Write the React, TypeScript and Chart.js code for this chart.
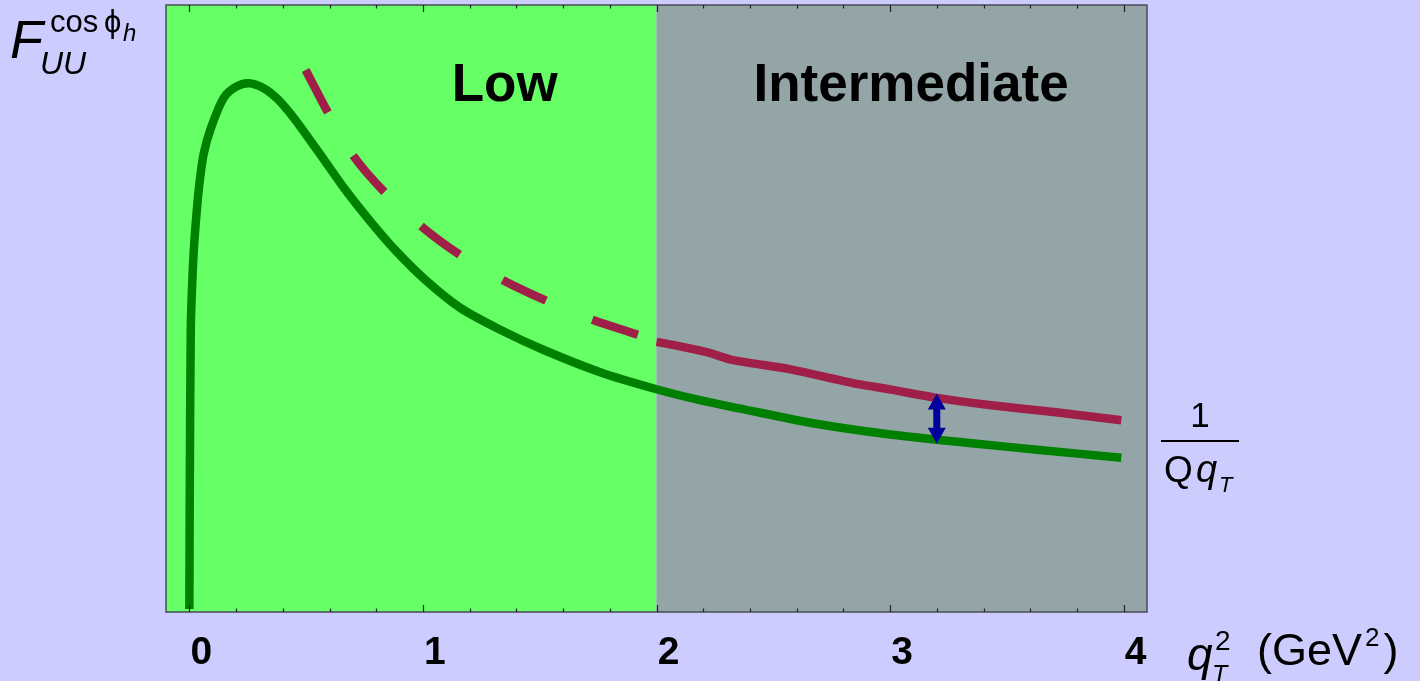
import React, { useEffect, useRef } from "react";
import { Chart, registerables } from "chart.js";

Chart.register(...registerables);

// ---- data ----
const xTickValues = [0, 1, 2, 3, 4];
const xTickLabels = ["0", "1", "2", "3", "4"];
const xMinorTicks = [0.2, 0.4, 0.6, 0.8, 1.2, 1.4, 1.6, 1.8, 2.2, 2.4, 2.6, 2.8, 3.2, 3.4, 3.6, 3.8];

const regionBounds = [-0.1, 2, 4.1];
const regionLabels = ["Low", "Intermediate"];
const regionLabelX = [1.35, 3.09];
const regionLabelY = 8.75;

const greenX = [0.0, 0.002, 0.006, 0.011, 0.019, 0.032, 0.045, 0.062, 0.092, 0.147, 0.199, 0.254, 0.318, 0.378, 0.447, 0.519, 0.575, 0.669, 0.776, 0.882, 1.011, 1.16, 1.331, 1.515, 1.759, 2.0, 2.186, 2.36, 2.67, 3.01, 3.35, 3.64, 3.99];
const greenY = [0.05, 2.17, 4.65, 5.3, 5.96, 6.62, 7.12, 7.56, 7.97, 8.47, 8.65, 8.71, 8.63, 8.45, 8.14, 7.76, 7.46, 6.95, 6.43, 5.96, 5.47, 5.01, 4.65, 4.32, 3.95, 3.67, 3.49, 3.35, 3.11, 2.92, 2.78, 2.67, 2.54];

const redDashX = [0.498, 0.592, 0.703, 0.835, 0.998, 1.16, 1.34, 1.532, 1.729, 1.925, 2.0];
const redDashY = [8.93, 8.24, 7.51, 6.92, 6.34, 5.88, 5.47, 5.12, 4.81, 4.56, 4.45];

const redSolidX = [2.0, 2.07, 2.216, 2.327, 2.57, 2.84, 3.01, 3.18, 3.425, 3.71, 3.99];
const redSolidY = [4.45, 4.4, 4.28, 4.15, 4.0, 3.77, 3.66, 3.54, 3.41, 3.29, 3.16];

const arrowX = 3.2;
const arrowTopY = 3.6;
const arrowBottomY = 2.77;

const FONT = "'Liberation Sans', Arial, Helvetica, sans-serif";

const toXY = (xs: number[], ys: number[]) => xs.map((x, i) => ({ x, y: ys[i] }));

const decorPlugin = {
  id: "decor",
  beforeDatasetsDraw(chart: any) {
    const { ctx, chartArea, scales } = chart;
    const xs = scales.x;
    const ys = scales.y;
    const fills = ["#66ff66", "#94a5a7"];
    ctx.save();
    for (let i = 0; i < regionBounds.length - 1; i++) {
      const x0 = xs.getPixelForValue(regionBounds[i]);
      const x1 = xs.getPixelForValue(regionBounds[i + 1]);
      ctx.fillStyle = fills[i];
      ctx.fillRect(x0, chartArea.top, x1 - x0, chartArea.bottom - chartArea.top);
    }
    ctx.fillStyle = "#000";
    ctx.font = `bold 53px ${FONT}`;
    ctx.textAlign = "center";
    ctx.textBaseline = "alphabetic";
    for (let i = 0; i < regionLabels.length; i++) {
      ctx.fillText(regionLabels[i], xs.getPixelForValue(regionLabelX[i]), ys.getPixelForValue(regionLabelY) + 20);
    }
    ctx.restore();
  },
  afterDatasetsDraw(chart: any) {
    const { ctx, chartArea, scales } = chart;
    const xs = scales.x;
    const ys = scales.y;
    ctx.save();
    // arrow
    const ax = xs.getPixelForValue(arrowX);
    const at = ys.getPixelForValue(arrowTopY);
    const ab = ys.getPixelForValue(arrowBottomY);
    const hw = 9, hh = 16, sw = 3.5;
    ctx.fillStyle = "#00009a";
    ctx.beginPath();
    ctx.moveTo(ax, at);
    ctx.lineTo(ax + hw, at + hh);
    ctx.lineTo(ax + sw, at + hh);
    ctx.lineTo(ax + sw, ab - hh);
    ctx.lineTo(ax + hw, ab - hh);
    ctx.lineTo(ax, ab);
    ctx.lineTo(ax - hw, ab - hh);
    ctx.lineTo(ax - sw, ab - hh);
    ctx.lineTo(ax - sw, at + hh);
    ctx.lineTo(ax - hw, at + hh);
    ctx.closePath();
    ctx.fill();

    // frame
    ctx.strokeStyle = "#4a4a5a";
    ctx.lineWidth = 1.5;
    ctx.strokeRect(chartArea.left, chartArea.top, chartArea.right - chartArea.left, chartArea.bottom - chartArea.top);
    ctx.lineWidth = 1.2;
    ctx.strokeStyle = "#222";
    const drawTick = (v: number, len: number) => {
      const px = Math.round(xs.getPixelForValue(v)) + 0.5;
      ctx.beginPath();
      ctx.moveTo(px, chartArea.bottom);
      ctx.lineTo(px, chartArea.bottom - len);
      ctx.moveTo(px, chartArea.top);
      ctx.lineTo(px, chartArea.top + len);
      ctx.stroke();
    };
    xTickValues.forEach((v) => drawTick(v, 7));
    xMinorTicks.forEach((v) => drawTick(v, 3.5));
    ctx.restore();
  },
  afterDraw(chart: any) {
    const { ctx } = chart;
    ctx.save();
    ctx.fillStyle = "#000";
    ctx.textAlign = "left";
    ctx.textBaseline = "alphabetic";
    // y label: F_UU^{cos phi_h}
    ctx.font = `italic 54px ${FONT}`;
    ctx.fillText("F", 10, 58);
    ctx.font = `italic 32px ${FONT}`;
    ctx.fillText("UU", 40, 74);
    ctx.font = `31px ${FONT}`;
    ctx.fillText("cos", 50, 32);
    ctx.fillText("\u03D5", 104, 32);
    ctx.font = `italic 24px ${FONT}`;
    ctx.fillText("h", 123, 41);

    // fraction 1/(Q q_T)
    ctx.font = `35px ${FONT}`;
    ctx.textAlign = "center";
    ctx.fillText("1", 1200, 427);
    ctx.textAlign = "left";
    ctx.fillRect(1161, 440, 78, 2);
    ctx.font = `37px ${FONT}`;
    ctx.fillText("Q", 1164, 482);
    ctx.font = `italic 38px ${FONT}`;
    ctx.fillText("q", 1196, 482);
    ctx.font = `italic 22px ${FONT}`;
    ctx.fillText("T", 1219, 492);

    // x-axis title q_T^2 (GeV^2)
    ctx.font = `italic 46px ${FONT}`;
    ctx.fillText("q", 1187, 670);
    ctx.font = `28px ${FONT}`;
    ctx.fillText("2", 1215, 650);
    ctx.font = `italic 25px ${FONT}`;
    ctx.fillText("T", 1212, 683);
    ctx.font = `45px ${FONT}`;
    let x = 1257;
    ctx.fillText("(GeV", x, 665);
    x += ctx.measureText("(GeV").width + 3;
    ctx.font = `26px ${FONT}`;
    ctx.fillText("2", x, 646);
    x += ctx.measureText("2").width + 4;
    ctx.font = `45px ${FONT}`;
    ctx.fillText(")", x, 665);
    ctx.restore();
  },
};

export default function App() {
  const canvasRef = useRef<HTMLCanvasElement | null>(null);

  useEffect(() => {
    if (!canvasRef.current) return;
    const chart = new Chart(canvasRef.current, {
      type: "line",
      data: {
        datasets: [
          {
            label: "F",
            data: toXY(greenX, greenY),
            borderColor: "#008000",
            borderWidth: 8.5,
            pointRadius: 0,
            tension: 0.3,
            borderCapStyle: "butt",
            borderJoinStyle: "round",
            fill: false,
          },
          {
            label: "1/Qq dashed",
            data: toXY(redDashX, redDashY),
            borderColor: "#a01f48",
            borderWidth: 8.5,
            borderDash: [48, 50],
            pointRadius: 0,
            tension: 0.3,
            borderCapStyle: "butt",
            fill: false,
          },
          {
            label: "1/Qq",
            data: toXY(redSolidX, redSolidY),
            borderColor: "#a01f48",
            borderWidth: 8.5,
            pointRadius: 0,
            tension: 0.2,
            borderCapStyle: "butt",
            borderJoinStyle: "round",
            fill: false,
          },
        ],
      },
      options: {
        animation: false,
        responsive: true,
        maintainAspectRatio: false,
        parsing: false,
        layout: { padding: { left: 166, right: 273, top: 5, bottom: 0 } },
        plugins: { legend: { display: false }, tooltip: { enabled: false } },
        scales: {
          x: {
            type: "linear",
            min: -0.1,
            max: 4.1,
            afterBuildTicks: (s: any) => {
              s.ticks = xTickValues.map((v) => ({ value: v }));
            },
            afterFit: (s: any) => {
              s.height = 69;
            },
            ticks: {
              autoSkip: false,
              maxRotation: 0,
              padding: 18,
              labelOffset: 12,
              color: "#000",
              font: { family: FONT, size: 39, weight: "bold" },
              callback: (v: any) => {
                const i = xTickValues.indexOf(Number(v));
                return i >= 0 ? xTickLabels[i] : "";
              },
            },
            grid: { display: false, drawTicks: false },
            border: { display: false },
          },
          y: { display: false, min: 0, max: 10 },
        },
      },
      plugins: [decorPlugin],
    } as any);
    return () => chart.destroy();
  }, []);

  return (
    <div style={{ position: "fixed", left: 0, top: 0, width: 1420, height: 681, background: "#ccccff" }}>
      <canvas ref={canvasRef} />
    </div>
  );
}
